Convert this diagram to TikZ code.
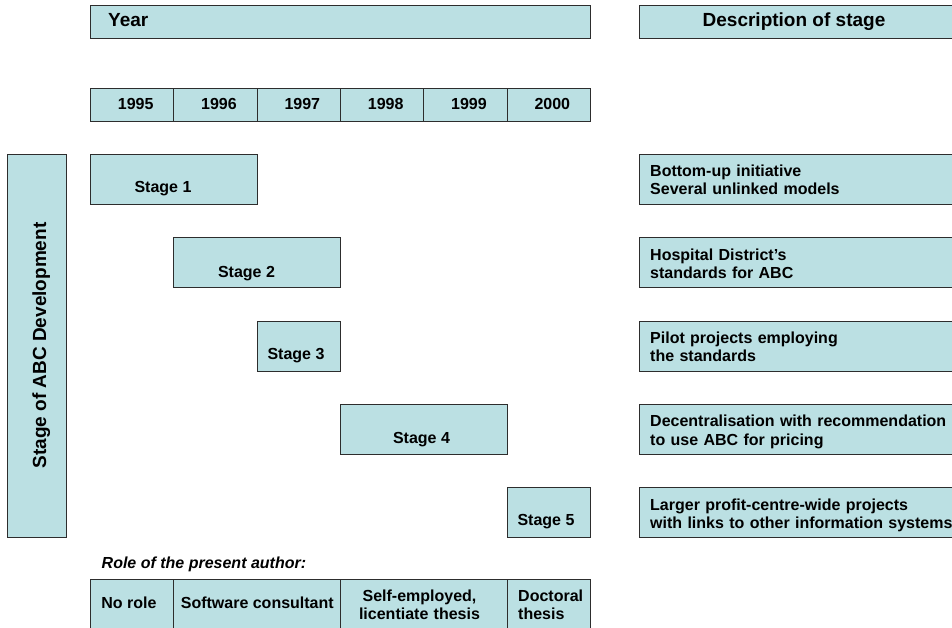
\documentclass[tikz,border=0pt]{standalone}
\usepackage{fontspec}
\setmainfont{Liberation Sans}
\definecolor{cellfill}{RGB}{187,224,227}
\definecolor{cellline}{RGB}{45,45,45}

\begin{document}
\begin{tikzpicture}[x=1pt,y=-1pt,
  cell/.style={draw=cellline, line width=1pt, fill=cellfill, inner sep=0pt,
               anchor=north west, minimum height=50pt},
  head/.style={font=\bfseries\fontsize{19}{22}\selectfont, inner sep=0pt},
  lbl/.style={font=\bfseries\fontsize{16}{18.3}\selectfont, inner sep=0pt},
  desc/.style={lbl, anchor=base west, text width=320pt, align=left},
  role/.style={font=\bfseries\fontsize{16}{18.8}\selectfont, inner sep=0pt},
]
\useasboundingbox (0,0) rectangle (952,628);

% ---- header bars ----
\node[cell, minimum width=500pt, minimum height=33pt] (yearbar) at (90,5) {};
\node[cell, minimum width=330pt, minimum height=33pt] (descbar) at (639,5) {};
\node[head, anchor=base west] (yeartxt) at (108,27) {Year};
\node[head, anchor=base] (desctxt) at (794,27) {Description of stage};

% ---- year row ----
\foreach \i/\yr in {0/1995,1/1996,2/1997,3/1998,4/1999,5/2000}{
  \node[cell, minimum width=83.33pt, minimum height=33pt] (y\yr) at ({90+83.33*\i},88) {};
  \node[lbl, anchor=base] (yt\yr) at ({90+83.33*\i+41.67+4},110) {\yr};
}

% ---- vertical axis label ----
\node[cell, minimum width=58.5pt, minimum height=383pt] (axis) at (7,154) {};
\node[head, anchor=base, rotate=90] (axistxt) at (46,345.5) {Stage of ABC Development};

% ---- stage bars ----
\node[cell, minimum width=166.67pt] (s1) at (90,154) {};
\node[cell, minimum width=166.67pt] (s2) at (173.33,237.33) {};
\node[cell, minimum width=83.33pt]  (s3) at (256.67,320.67) {};
\node[cell, minimum width=166.67pt] (s4) at (340,404) {};
\node[cell, minimum width=83.33pt]  (s5) at (506.67,487.33) {};
\node[lbl, anchor=base] (s1t) at (163,193) {Stage 1};
\node[lbl, anchor=base] (s2t) at (246.5,277) {Stage 2};
\node[lbl, anchor=base] (s3t) at (296,359) {Stage 3};
\node[lbl, anchor=base] (s4t) at (421.5,443) {Stage 4};
\node[lbl, anchor=base] (s5t) at (546,525) {Stage 5};

% ---- stage descriptions ----
\node[cell, minimum width=323pt] (d1) at (639,154) {};
\node[cell, minimum width=323pt] (d2) at (639,237.33) {};
\node[cell, minimum width=323pt] (d3) at (639,320.67) {};
\node[cell, minimum width=323pt] (d4) at (639,404) {};
\node[cell, minimum width=323pt] (d5) at (639,487.33) {};
\node[desc] (d1t) at (650,176.7) {Bottom-up initiative\\Several unlinked models};
\node[desc] (d2t) at (650,260) {Hospital District’s\\standards for ABC};
\node[desc] (d3t) at (650,343.4) {Pilot projects employing\\the standards};
\node[desc] (d4t) at (650,426.7) {Decentralisation with recommendation\\to use ABC for pricing};
\node[desc] (d5t) at (650,510) {Larger profit-centre-wide projects\\with links to other information systems};

% ---- author's role ----
\node[role, font=\bfseries\itshape\fontsize{16}{18.8}\selectfont, anchor=base west]
  (roletitle) at (101.5,568) {Role of the present author:};
\node[cell, minimum width=83.33pt]  (r1) at (90,579) {};
\node[cell, minimum width=166.67pt] (r2) at (173.33,579) {};
\node[cell, minimum width=166.67pt] (r3) at (340,579) {};
\node[cell, minimum width=83.33pt]  (r4) at (506.67,579) {};
\node[role, anchor=base] (r1t) at (129,608.3) {No role};
\node[role, anchor=base] (r2t) at (257.3,608.3) {Software consultant};
\node[role, anchor=base, text width=160pt, align=center] (r3t) at (419.5,601)
  {Self-employed,\\licentiate thesis};
\node[role, anchor=base west, text width=80pt, align=left] (r4t) at (518,601)
  {Doctoral\\thesis};
\end{tikzpicture}
\end{document}
